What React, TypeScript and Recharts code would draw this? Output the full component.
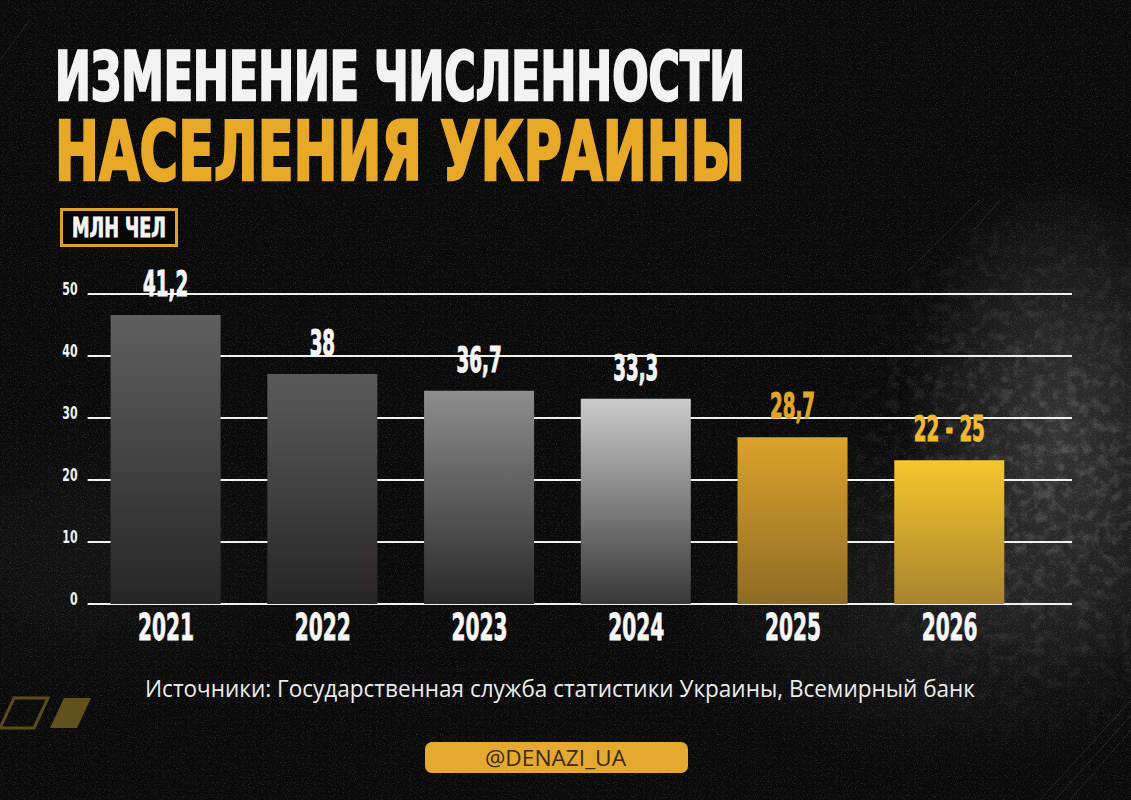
import React from 'react';
import { BarChart, Bar, XAxis, YAxis, CartesianGrid, Cell, LabelList } from 'recharts';

// ---- data ----
const years = ['2021', '2022', '2023', '2024', '2025', '2026'];
// value labels printed above the bars (млн чел)
const valueLabels = ['41,2', '38', '36,7', '33,3', '28,7', '22 - 25'];
// bar heights as drawn against the reference's y axis
const drawnHeights = [46.6, 37.1, 34.4, 33.1, 26.9, 23.2];
const yTicks = [0, 10, 20, 30, 40, 50];

const titleLine1 = 'ИЗМЕНЕНИЕ ЧИСЛЕННОСТИ';
const titleLine2 = 'НАСЕЛЕНИЯ УКРАИНЫ';
const unitLabel = 'МЛН ЧЕЛ';
const sourceText = 'Источники: Государственная служба статистики Украины, Всемирный банк';
const handle = '@DENAZI_UA';

const data = years.map((year, i) => ({ year, value: drawnHeights[i], label: valueLabels[i] }));

// ---- styles ----
const barGradients = [
  ['#605f60', '#2a2525'],
  ['#5b5a5b', '#2a2525'],
  ['#8d8d8f', '#2c2828'],
  ['#cacbce', '#393737'],
  ['#dca22b', '#8e6c25'],
  ['#f6c62d', '#a8842f'],
];
const labelColors = ['#f5f5f5', '#f5f5f5', '#f5f5f5', '#f5f5f5', '#e2a52b', '#f1bb2e'];
const GOLD = '#e5a92f';
const COND = "'DejaVu Sans Condensed','DejaVu Sans','Roboto',sans-serif";
const SANS = "'Open Sans','Noto Sans',sans-serif";

const XTick = (props: any) => {
  const { x, y, payload } = props;
  return (
    <text x={x - 28} y={y + 28} textLength={56} lengthAdjust="spacingAndGlyphs" fill="#f7f7f7"
      stroke="#f7f7f7" strokeWidth={0.8} fontFamily={COND} fontWeight={700} fontSize={37}>
      {payload.value}
    </text>
  );
};

const YTick = (props: any) => {
  const { x, y, payload } = props;
  return (
    <g transform={`translate(${x},${y + 1}) scale(0.72,1)`}>
      <text x={0} y={0} textAnchor="end" fill="#f2f2f2" fontFamily={COND} fontWeight={700} fontSize={17}>
        {payload.value}
      </text>
    </g>
  );
};

const ValueLabel = (props: any) => {
  const { x, y, width, value, index } = props;
  const cx = Number(x) + Number(width) / 2;
  const color = labelColors[index] || '#f5f5f5';
  return (
    <g transform={`translate(${cx},${Number(y) - 19}) scale(0.58,1)`}>
      <text x={0} y={0} textAnchor="middle" fill={color} stroke={color} strokeWidth={1}
        fontFamily={COND} fontWeight={700} fontSize={35}>
        {value}
      </text>
    </g>
  );
};

export default function App() {
  return (
    <div
      style={{
        position: 'absolute',
        left: 0,
        top: 0,
        width: 1131,
        height: 800,
        overflow: 'hidden',
        background:
          'radial-gradient(ellipse 200px 320px at 1060px 430px, rgba(95,95,95,0.5), rgba(0,0,0,0) 80%),' +
          'radial-gradient(ellipse 380px 230px at 960px 600px, rgba(55,55,55,0.4), rgba(0,0,0,0) 75%),' +
          'radial-gradient(ellipse 300px 200px at 80px 560px, rgba(40,40,40,0.3), rgba(0,0,0,0) 75%),' +
          '#0a0a0b',
      }}
    >
      <svg width={1131} height={800} style={{ position: 'absolute', left: 0, top: 0 }}>
        <defs>
          <filter id="grain" x="0" y="0" width="100%" height="100%">
            <feTurbulence type="fractalNoise" baseFrequency="0.85" numOctaves="2" seed="7" />
            <feColorMatrix type="matrix" values="0 0 0 0 1  0 0 0 0 1  0 0 0 0 1  2.2 0 0 0 -1.15" />
          </filter>
          <filter id="grunge" x="0" y="0" width="100%" height="100%">
            <feTurbulence type="fractalNoise" baseFrequency="0.09" numOctaves="4" seed="11" />
            <feColorMatrix type="matrix" values="0 0 0 0 0.7  0 0 0 0 0.7  0 0 0 0 0.7  3 0 0 0 -1.35" />
          </filter>
          <radialGradient id="grungeMask" cx="0.5" cy="0.5" r="0.5">
            <stop offset="0%" stopColor="#fff" stopOpacity={1} />
            <stop offset="100%" stopColor="#fff" stopOpacity={0} />
          </radialGradient>
          <mask id="rightMask">
            <ellipse cx={1050} cy={470} rx={250} ry={300} fill="url(#grungeMask)" />
          </mask>
        </defs>
        <rect x={0} y={0} width={1131} height={800} filter="url(#grain)" opacity={0.18} />
        <g mask="url(#rightMask)">
          <rect x={700} y={150} width={431} height={650} filter="url(#grunge)" opacity={0.2} />
        </g>
        {/* faint diagonal decorations */}
        <g stroke="#8a8a8a" strokeWidth={1} opacity={0.2}>
          <line x1={905} y1={274} x2={980} y2={200} />
          <line x1={972} y1={232} x2={1000} y2={200} />
          <line x1={1040} y1={800} x2={1131} y2={700} />
          <line x1={1055} y1={800} x2={1131} y2={715} />
          <line x1={1070} y1={800} x2={1131} y2={730} />
          <line x1={0} y1={60} x2={30} y2={20} />
        </g>
        {/* yellow stripes bottom-left */}
        <polygon points="0,728 14,698 48,698 34,728" fill="none" stroke="#6d5c1c" strokeWidth={3} opacity={0.8} />
        <polygon points="50,728 64,698 91,698 77,728" fill="#6f5f1e" opacity={0.85} />

        {/* title */}
        <text x={55} y={100} textLength={690} lengthAdjust="spacingAndGlyphs" fill="#f3f3f3" stroke="#f3f3f3"
          strokeWidth={2.4} fontFamily={COND} fontWeight={700} fontSize={68}>
          {titleLine1}
        </text>
        <text x={55} y={180} textLength={690} lengthAdjust="spacingAndGlyphs" fill="#e8a828" stroke="#e8a828"
          strokeWidth={2.6} fontFamily={COND} fontWeight={700} fontSize={82}>
          {titleLine2}
        </text>

        {/* unit badge */}
        <rect x={61.5} y={209.5} width={115} height={36} fill="#050505" stroke="#dca22b" strokeWidth={3} />
        <text x={72} y={237} textLength={94} lengthAdjust="spacingAndGlyphs" fill="#f5f5f5" stroke="#f5f5f5"
          strokeWidth={0.8} fontFamily={COND} fontWeight={700} fontSize={26}>
          {unitLabel}
        </text>

        {/* source */}
        <text x={145} y={697} textLength={830} lengthAdjust="spacingAndGlyphs" fill="#ececec"
          fontFamily={SANS} fontSize={24}>
          {sourceText}
        </text>

        {/* handle pill */}
        <rect x={425} y={742} width={263} height={31} rx={7} fill={GOLD} />
        <text x={485} y={766} textLength={141} lengthAdjust="spacingAndGlyphs" fill="#3a2b10"
          fontFamily={SANS} fontSize={22}>
          {handle}
        </text>
      </svg>

      <div style={{ position: 'absolute', left: 0, top: 0 }}>
        <BarChart width={1131} height={800} data={data}
          margin={{ top: 294, right: 59, left: 47.6, bottom: 156 }}>
          <defs>
            {barGradients.map((g, i) => (
              <linearGradient key={i} id={`barGrad${i}`} x1="0" y1="0" x2="0" y2="1">
                <stop offset="0%" stopColor={g[0]} />
                <stop offset="100%" stopColor={g[1]} />
              </linearGradient>
            ))}
          </defs>
          <CartesianGrid vertical={false} horizontal={true} stroke="#f0f0f0" strokeWidth={2.2} />
          <XAxis dataKey="year" axisLine={false} tickLine={false} interval={0} height={40}
            padding={{ left: 0, right: 44 }} tick={<XTick />} />
          <YAxis type="number" domain={[0, 50]} ticks={yTicks} axisLine={false} tickLine={false}
            width={40} tickMargin={4} tick={<YTick />} />
          <Bar dataKey="value" barSize={110} isAnimationActive={false}>
            {data.map((d, i) => (
              <Cell key={d.year} fill={`url(#barGrad${i})`} />
            ))}
            <LabelList dataKey="label" content={<ValueLabel />} />
          </Bar>
        </BarChart>
      </div>
    </div>
  );
}
